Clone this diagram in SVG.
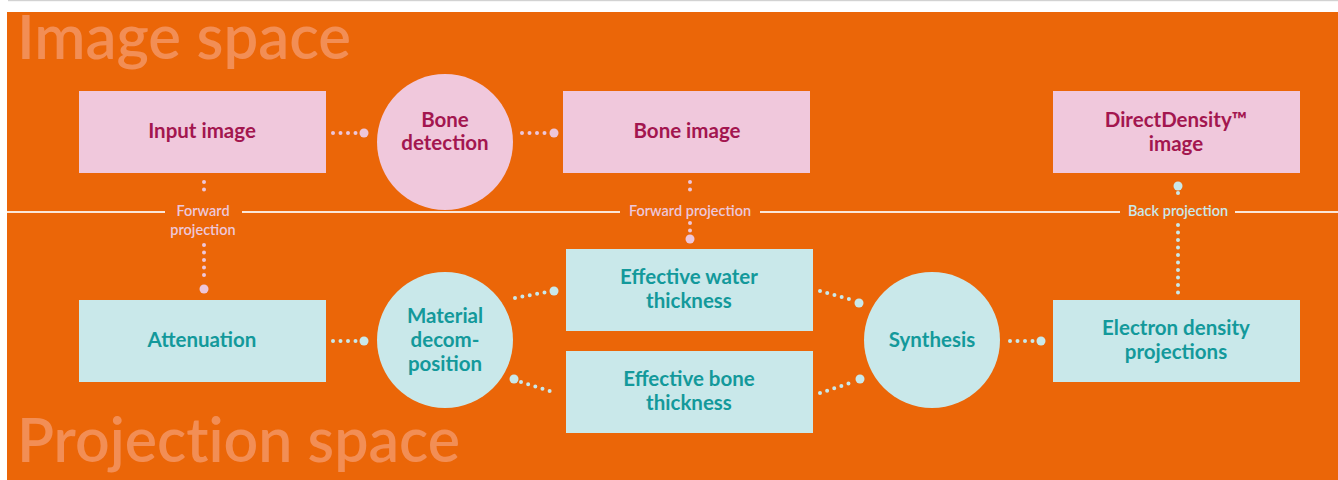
<svg xmlns="http://www.w3.org/2000/svg" width="1338" height="480" viewBox="0 0 1338 480">
<defs>
<style>
.title{font-family:Lato,"Noto Sans",sans-serif;font-weight:600;font-size:62px;fill:#F28E55;font-variant-ligatures:none;}
.pk rect,.pk circle{fill:#F0C8DC;}
.cy rect,.cy circle{fill:#C9E8EA;}
.pk text{fill:#A3164F;}
.cy text{fill:#13999B;}
.node text{font-family:Lato,"Noto Sans",sans-serif;font-weight:bold;font-size:20.5px;text-anchor:middle;}
.lbl{font-family:Lato,"Noto Sans",sans-serif;font-weight:600;font-size:14.5px;text-anchor:middle;}
.dp{stroke:#EDC6DA;stroke-width:4;stroke-linecap:round;stroke-dasharray:0 7.5;fill:none;}
.dc{stroke:#C9E8EA;stroke-width:4;stroke-linecap:round;stroke-dasharray:0 7.5;fill:none;}
.bp{fill:#EDC6DA;}
.bc{fill:#C9E8EA;}
</style>
</defs>
<rect x="8" y="0" width="1330" height="1.2" fill="#D2D2D2"/>
<rect x="7" y="12" width="1331" height="468" fill="#EB6608"/>
<text class="title" x="17" y="59" textLength="334" lengthAdjust="spacingAndGlyphs">Image space</text>
<text class="title" x="17" y="462" textLength="443" lengthAdjust="spacingAndGlyphs">Projection space</text>
<g id="divider" stroke="#FBE6D8" stroke-width="2">
<line x1="7" y1="212" x2="165" y2="212"/>
<line x1="242" y1="212" x2="620" y2="212"/>
<line x1="760" y1="212" x2="1120" y2="212"/>
<line x1="1235" y1="212" x2="1338" y2="212"/>
</g>
<g id="connectors">
<line class="dp" x1="333" y1="133" x2="357" y2="133"/><circle class="bp" cx="364" cy="133" r="4.5"/>
<line class="dp" x1="522" y1="133" x2="547" y2="133"/><circle class="bp" cx="554" cy="133" r="4.5"/>
<line class="dp" x1="204" y1="182" x2="204" y2="197"/>
<text class="lbl" x="203" y="216" fill="#EDC6DA">Forward</text>
<text class="lbl" x="203" y="235" fill="#EDC6DA">projection</text>
<line class="dp" x1="204" y1="245" x2="204" y2="282"/><circle class="bp" cx="204" cy="289" r="4.5"/>
<line class="dp" x1="690" y1="182" x2="690" y2="197"/>
<text class="lbl" x="690" y="216" fill="#EDC6DA">Forward projection</text>
<line class="dp" x1="690" y1="223" x2="690" y2="231"/><circle class="bp" cx="690" cy="239" r="4.5"/>
<circle class="bc" cx="1178" cy="186" r="4.5"/>
<line class="dc" x1="1178" y1="193" x2="1178" y2="200"/>
<text class="lbl" x="1178" y="216" fill="#C9E8EA">Back projection</text>
<line class="dc" x1="1178" y1="225" x2="1178" y2="293"/>
<line class="dc" x1="333" y1="341" x2="357" y2="341"/><circle class="bc" cx="364" cy="341" r="4.5"/>
<line class="dc" x1="515" y1="298" x2="547" y2="292"/><circle class="bc" cx="554" cy="291" r="4.5"/>
<circle class="bc" cx="514" cy="379" r="4.5"/><line class="dc" x1="521" y1="382" x2="556" y2="393"/>
<line class="dc" x1="820" y1="291" x2="852" y2="300"/><circle class="bc" cx="859" cy="303" r="4.5"/>
<line class="dc" x1="820" y1="393" x2="853" y2="382"/><circle class="bc" cx="860" cy="379" r="4.5"/>
<line class="dc" x1="1010" y1="341" x2="1034" y2="341"/><circle class="bc" cx="1041" cy="341" r="4.5"/>
</g>
<g id="input-image" class="node pk"><rect x="79" y="91" width="247" height="82"/><text x="202" y="138">Input image</text></g>
<g id="bone-detection" class="node pk"><circle cx="445" cy="142" r="68"/><text x="445" y="127">Bone</text><text x="445" y="150">detection</text></g>
<g id="bone-image" class="node pk"><rect x="563" y="91" width="247" height="82"/><text x="687" y="138">Bone image</text></g>
<g id="directdensity-image" class="node pk"><rect x="1053" y="91" width="247" height="82"/><text x="1176" y="127">DirectDensity™</text><text x="1176" y="151">image</text></g>
<g id="attenuation" class="node cy"><rect x="79" y="300" width="247" height="82"/><text x="202" y="347">Attenuation</text></g>
<g id="material-decomposition" class="node cy"><circle cx="445" cy="340" r="68"/><text x="445" y="323">Material</text><text x="445" y="347">decom-</text><text x="445" y="371">position</text></g>
<g id="effective-water-thickness" class="node cy"><rect x="566" y="249" width="247" height="82"/><text x="689" y="284">Effective water</text><text x="689" y="308">thickness</text></g>
<g id="effective-bone-thickness" class="node cy"><rect x="566" y="351" width="247" height="82"/><text x="689" y="386">Effective bone</text><text x="689" y="410">thickness</text></g>
<g id="synthesis" class="node cy"><circle cx="932" cy="340" r="68"/><text x="932" y="347">Synthesis</text></g>
<g id="electron-density-projections" class="node cy"><rect x="1053" y="300" width="247" height="82"/><text x="1176" y="335">Electron density</text><text x="1176" y="359">projections</text></g>
</svg>
